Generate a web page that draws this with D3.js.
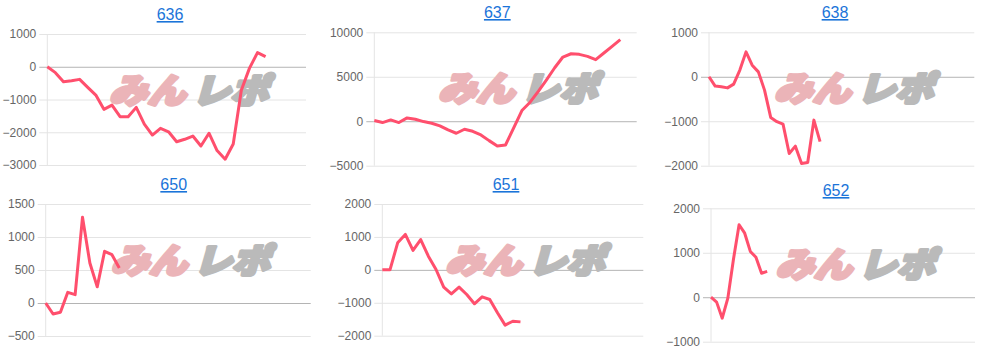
<!DOCTYPE html>
<html>
<head>
<meta charset="utf-8">
<script src="https://cdn.jsdelivr.net/npm/d3@7"></script>
<style>
  body { margin: 0; background: #fff; }
  svg { display: block; }
</style>
</head>
<body>
<svg></svg>
<script>
const w = 985;
const h = 350;

// chart names and how many x slots each one has
const titles = ["636", "637", "638", "650", "651", "652"];
const slotCounts = [33, 33, 44, 37, 35, 48];

// values
const data636 = [0, -180, -460, -430, -385, -630, -865, -1300, -1170, -1525, -1525, -1240, -1750, -2085,
                 -1880, -1985, -2290, -2215, -2115, -2420, -2030, -2560, -2825, -2360, -720, -50, 430, 310];
const data637 = [90, -150, 150, -150, 375, 225, -40, -225, -525, -980, -1350, -900, -1130, -1540, -2180,
                 -2780, -2670, -750, 1200, 2140, 3350, 4660, 6015, 7220, 7590, 7520, 7290, 6920, 7670, 8420, 9170];
const data638 = [0, -210, -225, -250, -165, 150, 560, 260, 110, -300, -915, -1010, -1065, -1725, -1560,
                 -1950, -1930, -975, -1460];
const data650 = [0, -167, -141, 162, 126, 1300, 606, 245, 783, 732, 530];
const data651 = [0, 0, 820, 1075, 590, 920, 415, 10, -525, -730, -525, -750, -1030, -820, -900, -1305,
                 -1680, -1560, -1580];
const data652 = [0, -110, -470, -20, 855, 1630, 1440, 1030, 900, 540, 580];

// y tick labels
const ticks636 = [1000, 0, -1000, -2000, -3000];
const ticks637 = [10000, 5000, 0, -5000];
const ticks638 = [1000, 0, -1000, -2000];
const ticks650 = [1500, 1000, 500, 0, -500];
const ticks651 = [2000, 1000, 0, -1000, -2000];
const ticks652 = [2000, 1000, 0, -1000];

const series = [data636, data637, data638, data650, data651, data652];
const tickSets = [ticks636, ticks637, ticks638, ticks650, ticks651, ticks652];

// where each little chart sits
const frames = [
  { left: 47.3, right: 306, top: 34, bottom: 165, tx: 170, ty: 20 },
  { left: 374.3, right: 636.7, top: 32.3, bottom: 165.7, tx: 497.3, ty: 18 },
  { left: 709, right: 974.3, top: 32.3, bottom: 165.7, tx: 835, ty: 18 },
  { left: 45.7, right: 310.7, top: 204, bottom: 336, tx: 173.7, ty: 190 },
  { left: 382.3, right: 643.3, top: 204, bottom: 335.7, tx: 506, ty: 190 },
  { left: 711, right: 975, top: 208.3, bottom: 341.7, tx: 836, ty: 196 }
];

const svg = d3.select("svg")
  .attr("width", w)
  .attr("height", h)
  .style("font-family", "'Liberation Sans', Arial, sans-serif");

frames.forEach((f, k) => {
  const data = series[k];
  const ticks = tickSets[k];
  const g = svg.append("g");

  const xScale = d3.scalePoint()
    .domain(d3.range(slotCounts[k]))
    .range([f.left, f.right]);

  const yScale = d3.scaleLinear()
    .domain([d3.min(ticks), d3.max(ticks)])
    .range([f.bottom, f.top]);

  // title link
  g.append("text")
    .attr("x", f.tx)
    .attr("y", f.ty)
    .attr("text-anchor", "middle")
    .style("font-size", "16px")
    .style("fill", "#1b74d9")
    .style("text-decoration", "underline")
    .text(titles[k]);

  // y axis + grid
  const yAxis = d3.axisLeft(yScale)
    .tickValues(ticks)
    .tickSizeInner(-(f.right - f.left + 8))
    .tickSizeOuter(0)
    .tickPadding(3)
    .tickFormat(d3.format("d"));

  const ax = g.append("g")
    .attr("transform", `translate(${f.left - 8}, 0)`)
    .call(yAxis);

  ax.select(".domain").remove();
  ax.selectAll(".tick line")
    .attr("stroke", d => d === 0 ? "#b4b4b4" : "#e4e4e4")
    .attr("stroke-width", 1);
  ax.selectAll(".tick text")
    .style("font-size", "12px")
    .style("fill", "#666")
    .style("font-family", "'Liberation Sans', Arial, sans-serif");

  g.append("line")
    .attr("x1", f.left)
    .attr("x2", f.left)
    .attr("y1", f.top)
    .attr("y2", f.bottom)
    .attr("stroke", "#e4e4e4");

  // watermark みんレポ
  const cx = (f.left + f.right) / 2 + 10;
  const cy = f.top + 57;
  const wm = g.append("g")
    .attr("transform", `translate(${cx}, ${cy + 12}) skewX(-16) scale(1.12, 1)`)
    .style("font-family", "'Noto Sans CJK JP', sans-serif")
    .style("font-weight", "900")
    .style("font-size", "34px")
    .style("stroke-linejoin", "round");
  wm.append("text")
    .attr("x", -1)
    .attr("text-anchor", "end")
    .style("fill", "#ebb4b8")
    .style("stroke", "#ebb4b8")
    .style("stroke-width", 3.5)
    .text("みん");
  wm.append("text")
    .attr("x", 5)
    .attr("text-anchor", "start")
    .style("fill", "#bababa")
    .style("stroke", "#bababa")
    .style("stroke-width", 3.5)
    .text("レポ");

  const line = d3.line()
    .x((d, i) => xScale(i))
    .y(d => yScale(d));

  g.append("path")
    .datum(data)
    .attr("d", line)
    .attr("fill", "none")
    .attr("stroke", "#ff4f6d")
    .attr("stroke-width", 3)
    .attr("stroke-linejoin", "round");
});
</script>
</body>
</html>
